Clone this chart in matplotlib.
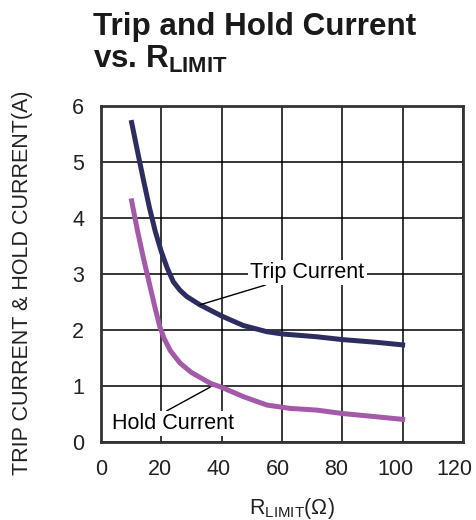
import matplotlib
matplotlib.use("Agg")
import matplotlib.pyplot as plt
from matplotlib.transforms import ScaledTranslation

plt.rcParams['font.family'] = ['Liberation Sans', 'DejaVu Sans']
plt.rcParams['mathtext.fontset'] = 'custom'
plt.rcParams['mathtext.rm'] = 'Liberation Sans'
plt.rcParams['mathtext.bf'] = 'Liberation Sans:bold'

# R_LIMIT (ohm) vs current (A)
trip_r = [10.0, 12.0, 14.0, 16.0, 18.0, 20.0, 22.0, 24.0, 26.2, 28.4, 32.8, 40.0, 47.2, 55.0, 60.0, 71.5, 79.8, 91.4, 100.8]
trip_i = [5.75, 5.22, 4.70, 4.20, 3.76, 3.40, 3.10, 2.86, 2.71, 2.60, 2.45, 2.25, 2.08, 1.97, 1.93, 1.88, 1.83, 1.78, 1.73]

hold_r = [10.0, 12.0, 14.0, 16.0, 18.0, 19.5, 21.0, 23.0, 26.2, 30.0, 36.2, 40.3, 47.2, 55.0, 62.7, 71.5, 79.8, 91.4, 100.8]
hold_i = [4.35, 3.80, 3.30, 2.84, 2.38, 2.06, 1.84, 1.63, 1.41, 1.24, 1.05, 0.97, 0.81, 0.66, 0.60, 0.57, 0.51, 0.45, 0.40]

x_ticks = [0, 20, 40, 60, 80, 100, 120]
y_ticks = [0, 1, 2, 3, 4, 5, 6]

fig = plt.figure(figsize=(4.77, 5.2), dpi=100)
ax = fig.add_axes([0.2117, 0.15, 0.759, 0.646])

ax.plot(trip_r, trip_i, color='#2e2d62', lw=3.6, solid_capstyle='butt',
        solid_joinstyle='round', zorder=3)
ax.plot(hold_r, hold_i, color='#a45aa8', lw=3.6, solid_capstyle='butt',
        solid_joinstyle='round', zorder=3)

ax.set_xlim(0, 120)
ax.set_ylim(0, 6)
ax.set_xticks(x_ticks)
ax.set_yticks(y_ticks)
ax.grid(True, color='black', lw=1.1)
ax.set_axisbelow(True)
ax.tick_params(length=0, labelsize=15.5, colors='#222222')
ax.tick_params(axis='x', pad=12)
ax.tick_params(axis='y', pad=12)
for s in ax.spines.values():
    s.set_linewidth(2.0)
    s.set_color('#333333')

# x tick labels in the original sit a little left of their grid lines
for val, lab in zip(x_ticks, ax.get_xticklabels()):
    dx = -val * 0.075 / 100
    lab.set_transform(lab.get_transform() + ScaledTranslation(dx, 0, fig.dpi_scale_trans))

ax.set_ylabel('TRIP CURRENT & HOLD CURRENT(A)', fontsize=15.5, color='#222222')
ax.yaxis.set_label_coords(-0.188, 0.473)
ax.set_xlabel(r'R$_{\mathrm{LIMIT}}$(Ω)', fontsize=15.5, color='#222222')
ax.xaxis.set_label_coords(0.528, -0.16)

box = dict(facecolor='white', edgecolor='none', pad=1.5)
ax.annotate('Trip Current', xy=(32.8, 2.45), xytext=(49.5, 3.03),
            fontsize=15.5, ha='left', va='center', bbox=box, zorder=4,
            arrowprops=dict(arrowstyle='-', color='black', lw=1.0,
                            shrinkA=0, shrinkB=0))
ax.annotate('Hold Current', xy=(36.2, 0.98), xytext=(3.5, 0.33),
            fontsize=15.5, ha='left', va='center', bbox=box, zorder=4,
            arrowprops=dict(arrowstyle='-', color='black', lw=1.0,
                            shrinkA=0, shrinkB=0, relpos=(0.42, 1.0)))

fig.text(0.195, 0.932, 'Trip and Hold Current', fontsize=22.6, fontweight='bold',
         ha='left', va='baseline', color='#1a1a1a')
fig.text(0.195, 0.869, r'vs. $\mathbf{R_{LIMIT}}$', fontsize=22.6, fontweight='bold',
         ha='left', va='baseline', color='#1a1a1a')

fig.savefig('out.png', dpi=100)
